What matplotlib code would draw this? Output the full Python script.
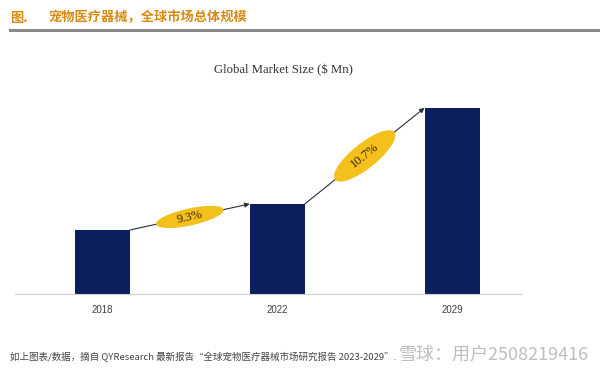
import math
import matplotlib
matplotlib.use("Agg")
from matplotlib import pyplot as plt
from matplotlib.patches import Ellipse
import matplotlib.transforms as mtransforms

plt.rcParams['font.family'] = ['Noto Sans CJK SC', 'DejaVu Sans']

# data
years = ['2018', '2022', '2029']
market_size = [640, 900, 1860]        # $ Mn
cagr_labels = ['9.3%', '10.7%']

title_prefix = '图.'
title_text = '宠物医疗器械，全球市场总体规模'
chart_title = 'Global Market Size ($ Mn)'
source_text = '如上图表/数据，摘自 QYResearch 最新报告“全球宠物医疗器械市场研究报告 2023-2029”.'
watermark = '雪球：用户2508219416'

bar_color = '#0b1f5e'
gold = '#f3c01c'
orange = '#d98a12'

fig = plt.figure(figsize=(6, 3.75), dpi=100)
fig.patch.set_facecolor('white')

# header
fig.text(0.017, 0.953, title_prefix, color=orange, fontsize=9.5, fontweight='bold',
         va='center', ha='left')
fig.text(0.08, 0.953, title_text, color=orange, fontsize=9.5, fontweight='bold',
         va='center', ha='left')
fig.add_artist(plt.Line2D([0.017, 1.0], [0.921, 0.921], color='#8a8a8a', lw=2.2,
                          transform=fig.transFigure))

ax = fig.add_axes([0.025, 0.216, 0.845, 0.571])
x = list(range(len(years)))
width = 0.315
ax.bar(x, market_size, width=width, color=bar_color, zorder=2)
ax.set_xlim(-0.5, 2.4)
ax.set_ylim(0, 2140)
ax.set_xticks(x)
ax.set_xticklabels(years, fontsize=7, color='#404040', family=['Liberation Sans'])
ax.tick_params(axis='x', length=0, pad=8)
ax.set_yticks([])
for s in ['top', 'right', 'left']:
    ax.spines[s].set_visible(False)
ax.spines['bottom'].set_color('#d0d0d0')
ax.spines['bottom'].set_linewidth(0.8)

fig.text(0.472, 0.813, chart_title, fontsize=9.2, color='#333333', ha='center',
         va='center', family=['Liberation Serif'])

# growth arrows with ellipse labels
ell_sizes = [(0.69, 0.17), (0.76, 0.25)]
for i, label in enumerate(cagr_labels):
    x0, y0 = x[i] + width / 2, market_size[i]
    x1, y1 = x[i + 1] - width / 2, market_size[i + 1]
    ax.annotate('', xy=(x1, y1), xytext=(x0, y0),
                arrowprops=dict(arrowstyle='-|>', color='#2a2d3e', lw=0.8,
                                mutation_scale=7, shrinkA=0, shrinkB=0), zorder=3)
    p0 = ax.transData.transform((x0, y0))
    p1 = ax.transData.transform((x1, y1))
    ang = math.degrees(math.atan2(p1[1] - p0[1], p1[0] - p0[0]))
    mx, my = (x0 + x1) / 2, (y0 + y1) / 2
    tr = fig.dpi_scale_trans + mtransforms.ScaledTranslation(mx, my, ax.transData)
    L, t = ell_sizes[i]
    ax.add_patch(Ellipse((0, 0), L, t, angle=ang, transform=tr, facecolor=gold,
                         edgecolor='none', zorder=4, clip_on=False))
    ax.text(mx, my, label, rotation=ang, rotation_mode='anchor', ha='center',
            va='center', fontsize=9, color='#3b2a10', family=['Liberation Serif'],
            zorder=5)

# footer
fig.text(0.017, 0.048, source_text, fontsize=6.8, color='#444444', ha='left',
         va='center', style='italic')
fig.text(0.982, 0.053, watermark, fontsize=13, color='#b8b8b8', ha='right',
         va='center', alpha=0.9)

fig.savefig('out.png', dpi=100)
